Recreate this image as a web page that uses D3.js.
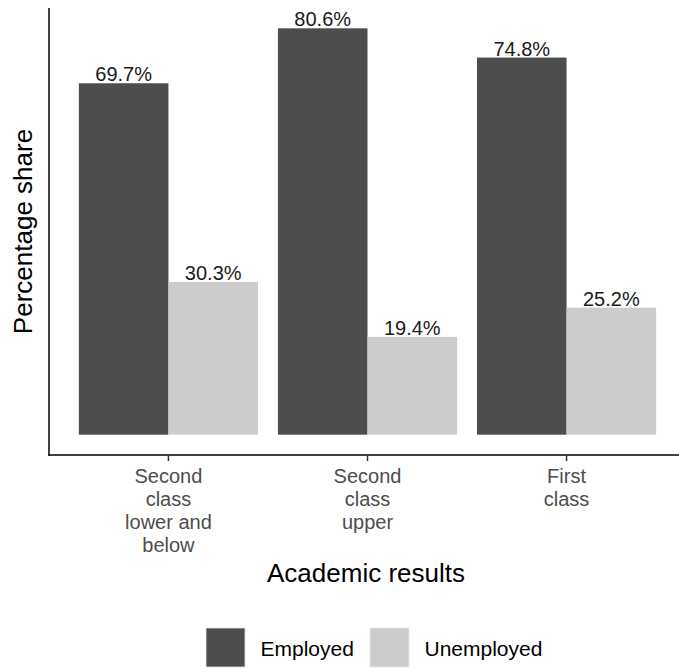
<!DOCTYPE html>
<html>
<head>
<meta charset="utf-8">
<script src="https://cdn.jsdelivr.net/npm/d3@7/dist/d3.min.js"></script>
<style>
  html, body { margin: 0; padding: 0; background: #fff; }
  svg { display: block; font-family: "Liberation Sans", Arial, sans-serif; }
</style>
</head>
<body>
<svg id="chart" width="679" height="669"></svg>
<script>
// Academic results and employment share
const categories = ["Second class lower and below", "Second class upper", "First class"];
const tickLabels = [["Second", "class", "lower and", "below"], ["Second", "class", "upper"], ["First", "class"]];
const seriesNames = ["Employed", "Unemployed"];
const employed = [69.7, 80.6, 74.8];
const unemployed = [30.3, 19.4, 25.2];
const seriesColors = ["#4d4d4d", "#cccccc"];

const svg = d3.select("#chart");
const W = 679, H = 669;
const panel = { left: 49, right: 686, top: 8, bottom: 455 };

const rows = categories.map((c, i) => ({ cat: c, Employed: employed[i], Unemployed: unemployed[i] }));
const maxVal = d3.max([...employed, ...unemployed]);

const x = d3.scaleBand()
  .domain(categories)
  .range([panel.left, panel.right])
  .paddingInner(0.1)
  .paddingOuter(0.15);

const xs = d3.scaleBand()
  .domain(seriesNames)
  .range([0, x.bandwidth()])
  .padding(0);

const y = d3.scaleLinear()
  .domain([-0.05 * maxVal, 1.05 * maxVal])
  .range([panel.bottom, panel.top]);

const color = d3.scaleOrdinal().domain(seriesNames).range(seriesColors);

// bars
const groups = svg.append("g").selectAll("g")
  .data(rows)
  .join("g")
  .attr("transform", d => `translate(${x(d.cat)},0)`);

groups.selectAll("rect")
  .data(d => seriesNames.map(s => ({ s, v: d[s] })))
  .join("rect")
  .attr("x", d => xs(d.s))
  .attr("width", xs.bandwidth())
  .attr("y", d => y(d.v))
  .attr("height", d => y(0) - y(d.v))
  .attr("fill", d => color(d.s));

// value labels
groups.selectAll("text")
  .data(d => seriesNames.map(s => ({ s, v: d[s] })))
  .join("text")
  .attr("x", d => xs(d.s) + xs.bandwidth() / 2)
  .attr("y", d => y(d.v) - 2)
  .attr("text-anchor", "middle")
  .attr("font-size", 20)
  .attr("fill", "#1a1a1a")
  .text(d => d.v.toFixed(1) + "%");

// axes lines
svg.append("line")
  .attr("x1", panel.left).attr("x2", panel.left)
  .attr("y1", panel.top).attr("y2", panel.bottom + 0.75)
  .attr("stroke", "#000").attr("stroke-width", 1.5);

const xAxis = svg.append("g")
  .attr("transform", `translate(0,${panel.bottom})`)
  .call(d3.axisBottom(x).tickSize(6).tickSizeOuter(0).tickFormat(() => ""));
xAxis.select(".domain").attr("stroke", "#000").attr("stroke-width", 1.5)
  .attr("d", `M${panel.left - 0.75},0H${W}`);
xAxis.selectAll(".tick line").attr("stroke", "#333").attr("stroke-width", 1.5);
xAxis.selectAll(".tick text").remove();

// multi-line tick labels
categories.forEach((c, i) => {
  const t = svg.append("text")
    .attr("text-anchor", "middle")
    .attr("font-size", 20)
    .attr("fill", "#4d4d4d");
  tickLabels[i].forEach((line, j) => {
    t.append("tspan")
      .attr("x", x(c) + x.bandwidth() / 2)
      .attr("y", 483 + j * 23)
      .text(line);
  });
});

// axis titles
svg.append("text")
  .attr("x", 366).attr("y", 582)
  .attr("text-anchor", "middle")
  .attr("font-size", 26)
  .attr("fill", "#000")
  .text("Academic results");

svg.append("text")
  .attr("transform", `translate(32,${(panel.top + panel.bottom) / 2}) rotate(-90)`)
  .attr("text-anchor", "middle")
  .attr("font-size", 26)
  .attr("fill", "#000")
  .text("Percentage share");

// legend
const legendItems = [
  { name: seriesNames[0], x: 206 },
  { name: seriesNames[1], x: 370 }
];
const lg = svg.append("g").selectAll("g")
  .data(legendItems)
  .join("g")
  .attr("transform", d => `translate(${d.x},628)`);
lg.append("rect")
  .attr("width", 39).attr("height", 39)
  .attr("fill", d => color(d.name))
  .attr("stroke", "#e6e6e6").attr("stroke-width", 0.8);
lg.append("text")
  .attr("x", 54.5).attr("y", 27.5)
  .attr("font-size", 21)
  .attr("fill", "#000")
  .text(d => d.name);
</script>
</body>
</html>
